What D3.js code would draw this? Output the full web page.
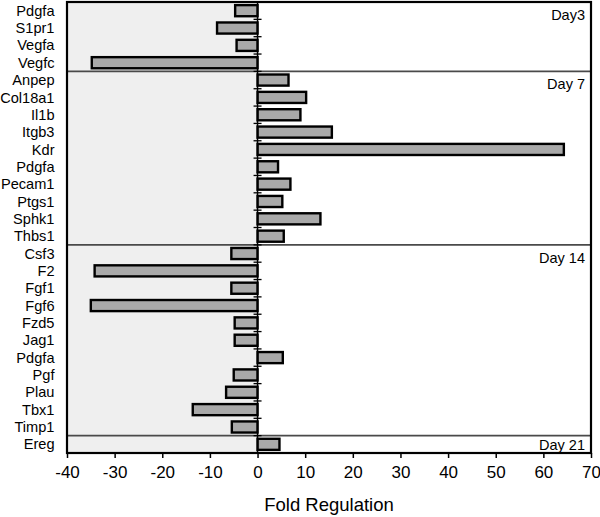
<!DOCTYPE html>
<html><head><meta charset="utf-8">
<script src="https://cdn.jsdelivr.net/npm/d3@7"></script>
<style>body{margin:0;background:#fff}svg{display:block}</style>
</head><body><svg id="c" width="600" height="517"></svg>
<script>
const genes = ["Pdgfa","S1pr1","Vegfa","Vegfc","Anpep","Col18a1","Il1b","Itgb3","Kdr","Pdgfa","Pecam1","Ptgs1","Sphk1","Thbs1","Csf3","F2","Fgf1","Fgf6","Fzd5","Jag1","Pdgfa","Pgf","Plau","Tbx1","Timp1","Ereg"];
const foldValues = [-4.7,-8.5,-4.4,-34.8, 6.5,10.2,9.0,15.6,64.3,4.3,6.9,5.2,13.2,5.5, -5.5,-34.2,-5.5,-35.0,-4.8,-4.8,5.3,-5.0,-6.6,-13.6,-5.4, 4.6];
const groupNames = ["Day3","Day 7","Day 14","Day 21"];
const groupSizes = [4,10,11,1];
const xTicks = [-40,-30,-20,-10,0,10,20,30,40,50,60,70];

const rows = genes.map((g,i)=>({key:i, gene:g, value:foldValues[i]}));
const svg = d3.select("#c");
const FONT = "Liberation Sans, Arial, sans-serif";
const L=67, R=591, T=2, B=453;
const x = d3.scaleLinear().domain([-40,70]).range([L,R]);
const y = d3.scaleBand().domain(rows.map(d=>d.key)).range([T,B]).paddingInner(0.36).paddingOuter(0.18);
const step = y.step();

// backgrounds
svg.append("rect").attr("x",x(-40)).attr("y",T).attr("width",x(0)-x(-40)).attr("height",B-T).attr("fill","#efefef");
svg.append("rect").attr("x",x(0)).attr("y",T).attr("width",x(70)-x(0)).attr("height",B-T).attr("fill","#fff");

// group separators and labels
let start=0;
const rowY = i => T + i*step;
groupSizes.forEach((n,gi)=>{
  if(gi>0){
    svg.append("line").attr("x1",L).attr("x2",R).attr("y1",rowY(start)).attr("y2",rowY(start))
      .attr("stroke","#4a4a4a").attr("stroke-width",1.6);
  }
  const ly = gi===3 ? rowY(start)+step-3 : rowY(start)+18;
  svg.append("text").attr("x",R-6).attr("y",ly).attr("text-anchor","end")
    .attr("font-family",FONT).attr("font-size",14.5).attr("fill","#000").text(groupNames[gi]);
  start+=n;
});

// bars
svg.append("g").selectAll("rect").data(rows).join("rect")
  .attr("x",d=>x(Math.min(0,d.value))).attr("y",d=>y(d.key))
  .attr("width",d=>Math.abs(x(d.value)-x(0))).attr("height",y.bandwidth())
  .attr("fill","#a9a9a9").attr("stroke","#000").attr("stroke-width",2.4);

// zero axis with ticks at row boundaries
svg.append("line").attr("x1",x(0)).attr("x2",x(0)).attr("y1",T).attr("y2",B).attr("stroke","#000").attr("stroke-width",1.5);
d3.range(1,rows.length).forEach(i=>{
  svg.append("line").attr("x1",x(0)-4).attr("x2",x(0)+4).attr("y1",rowY(i)).attr("y2",rowY(i)).attr("stroke","#000").attr("stroke-width",1.3);
});

// frame
svg.append("rect").attr("x",L).attr("y",T).attr("width",R-L).attr("height",B-T).attr("fill","none").attr("stroke","#000").attr("stroke-width",2.2);

// category labels
svg.append("g").selectAll("text").data(rows).join("text")
  .attr("x",54.5).attr("y",d=>y(d.key)+y.bandwidth()/2).attr("dy","0.35em").attr("text-anchor","end")
  .attr("font-family",FONT).attr("font-size",14.6).attr("fill","#000").text(d=>d.gene);

// x axis
const xa = svg.append("g").attr("transform",`translate(0,${B})`)
  .call(d3.axisBottom(x).tickValues(xTicks).tickSize(5).tickSizeOuter(0).tickPadding(8).tickFormat(d=>String(d)));
xa.select(".domain").remove();
xa.selectAll(".tick line").attr("stroke","#000").attr("stroke-width",1.5);
xa.selectAll(".tick text").attr("font-family",FONT).attr("font-size",17).attr("fill","#000");

svg.append("text").attr("x",(L+R)/2).attr("y",511).attr("text-anchor","middle")
  .attr("font-family",FONT).attr("font-size",18.5).attr("fill","#000").text("Fold Regulation");
</script></body></html>
